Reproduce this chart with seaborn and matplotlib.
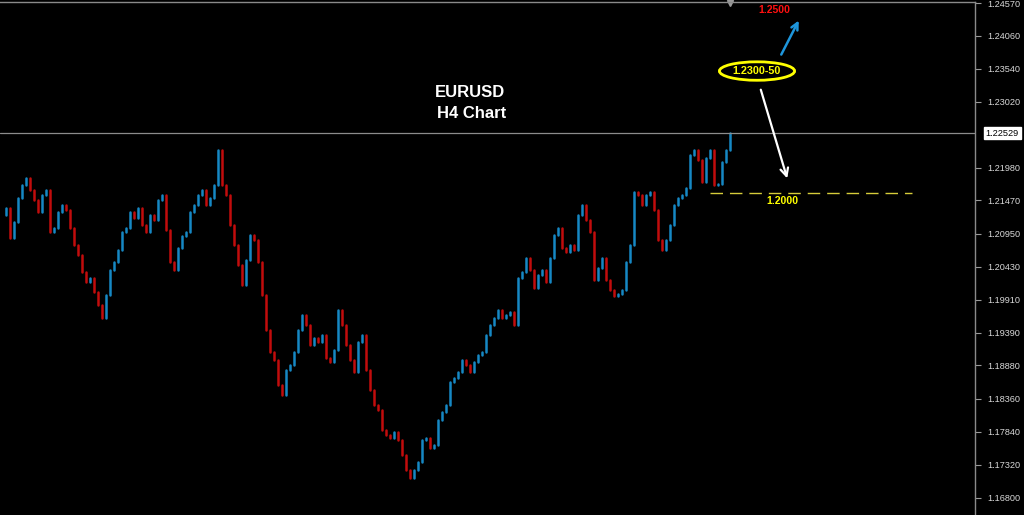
import numpy as np
import pandas as pd
import seaborn as sns
import matplotlib.pyplot as plt
from matplotlib.patches import Ellipse

# H4 closes, left to right (one every ~4 px)
closes = [
    1.21242, 1.21351, 1.20880, 1.21132, 1.21508, 1.21713, 1.21823, 1.21634, 1.21477, 1.21289,
    1.21556, 1.21634, 1.20975, 1.21038, 1.21289, 1.21399, 1.21320, 1.21038, 1.20771, 1.20614,
    1.20347, 1.20190, 1.20253, 1.20033, 1.19829, 1.19625, 1.19986, 1.20378, 1.20504, 1.20692,
    1.20975, 1.21038, 1.21289, 1.21195, 1.21351, 1.21085, 1.20975, 1.21242, 1.21163, 1.21477,
    1.21556, 1.21006, 1.20504, 1.20378, 1.20724, 1.20912, 1.20975, 1.21289, 1.21399, 1.21556,
    1.21634, 1.21399, 1.21508, 1.21713, 1.22262, 1.21713, 1.21556, 1.21085, 1.20771, 1.20457,
    1.20143, 1.20535, 1.20928, 1.20849, 1.20504, 1.19986, 1.19436, 1.19091, 1.18965, 1.18573,
    1.18416, 1.18808, 1.18887, 1.19091, 1.19436, 1.19672, 1.19515, 1.19201, 1.19311, 1.19248,
    1.19358, 1.18997, 1.18934, 1.19122, 1.19750, 1.19515, 1.19201, 1.18965, 1.18777, 1.19248,
    1.19358, 1.18808, 1.18494, 1.18259, 1.18180, 1.17866, 1.17788, 1.17741, 1.17835, 1.17709,
    1.17474, 1.17238, 1.17113, 1.17238, 1.17364, 1.17709, 1.17741, 1.17584, 1.17631, 1.18023,
    1.18149, 1.18259, 1.18620, 1.18683, 1.18777, 1.18965, 1.18887, 1.18777, 1.18934, 1.19044,
    1.19091, 1.19358, 1.19515, 1.19625, 1.19750, 1.19625, 1.19672, 1.19719, 1.19515, 1.20253,
    1.20347, 1.20567, 1.20378, 1.20096, 1.20300, 1.20378, 1.20190, 1.20567, 1.20928, 1.21038,
    1.20724, 1.20661, 1.20771, 1.20692, 1.21242, 1.21399, 1.21163, 1.20975, 1.20221, 1.20410,
    1.20567, 1.20221, 1.20064, 1.19970, 1.20001, 1.20064, 1.20504, 1.20771, 1.21603, 1.21556,
    1.21399, 1.21556, 1.21603, 1.21320, 1.20849, 1.20692, 1.20849, 1.21085, 1.21399, 1.21508,
    1.21556, 1.21666, 1.22184, 1.22262, 1.22105, 1.21760, 1.22137, 1.22262, 1.21713, 1.21728,
    1.22074, 1.22262, 1.22529,
]

price_ticks = [1.24570, 1.24060, 1.23540, 1.23020, 1.21980, 1.21470, 1.20950, 1.20430,
               1.19910, 1.19390, 1.18880, 1.18360, 1.17840, 1.17320, 1.16800]
current_price = 1.22529
support_level = 1.2159

rows = []
for i in range(1, len(closes)):
    o, c = closes[i - 1], closes[i]
    d = "up" if c >= o else "down"
    rows.append({"bar": i, "x": i, "price": o, "dir": d})
    rows.append({"bar": i, "x": i, "price": c, "dir": d})
df = pd.DataFrame(rows)

sns.set_style("dark", {"axes.facecolor": "black", "figure.facecolor": "black"})
plt.rcParams["font.family"] = ["Liberation Sans", "DejaVu Sans"]

fig = plt.figure(figsize=(10.24, 5.15), dpi=100)
ax = fig.add_axes([0, 0, 975 / 1024, 1 - 2 / 515])

sns.lineplot(data=df, x="x", y="price", units="bar", hue="dir", estimator=None,
             palette={"up": "#1688c4", "down": "#c20c0c"}, lw=1.8, legend=False,
             sort=False, ax=ax)

ax.set_xlim(-0.5, 243.25)
ax.set_ylim(1.16532, 1.24586)
ax.set_xlabel("")
ax.set_ylabel("")
ax.set_xticks([])
ax.yaxis.tick_right()
ax.set_yticks(price_ticks)
ax.set_yticklabels([f"{t:.5f}" for t in price_ticks])
ax.tick_params(axis="y", colors="#9a9a9a", labelcolor="#d8d8d8", labelsize=6.6,
               length=4, width=0.8, pad=5, direction="out")
ax.grid(False)
for side in ["left", "bottom"]:
    ax.spines[side].set_visible(False)
for side in ["right", "top"]:
    ax.spines[side].set_color("#8a8a8a")
    ax.spines[side].set_linewidth(1)

# current price line and label
ax.axhline(current_price, color="#8c8c8c", lw=0.9)
ax.text(1.011, current_price, f"{current_price:.5f}", transform=ax.get_yaxis_transform(),
        va="center", ha="left", fontsize=6.6, color="black",
        bbox=dict(boxstyle="square,pad=0.2", fc="white", ec="white"), clip_on=False)

# shift marker at the top
ax.plot([182], [1.2457], marker="v", color="#9a9a9a", ms=5, clip_on=False)

# title
ax.text(117, 1.23173, "EURUSD", color="white", fontsize=12, fontweight="bold",
        ha="center", va="center")
ax.text(117.5, 1.22843, "H4 Chart", color="white", fontsize=12, fontweight="bold",
        ha="center", va="center")

# targets
ax.text(193, 1.24460, "1.2500", color="#ff1010", fontsize=7.6, fontweight="bold",
        ha="center", va="center")
ax.annotate("", xy=(199.5, 1.24334), xytext=(194.5, 1.23722),
            arrowprops=dict(arrowstyle="->", color="#1e96dc", lw=1.8, mutation_scale=12))
ax.add_patch(Ellipse((188.75, 1.23502), 18.8, 0.0029, fill=False,
                     ec="#ffff00", lw=2))
ax.text(188.75, 1.23502, "1.2300-50", color="#ffff00", fontsize=7.8, fontweight="bold",
        ha="center", va="center")
ax.annotate("", xy=(196.5, 1.21775), xytext=(189.5, 1.23251),
            arrowprops=dict(arrowstyle="->", color="white", lw=1.6, mutation_scale=14))
ax.plot([177, 227.5], [support_level, support_level], color="#d6cc3a", lw=1,
        dashes=(9, 5))
ax.text(195, 1.21461, "1.2000", color="#ffff00", fontsize=7.6, fontweight="bold",
        ha="center", va="center")

fig.savefig("out.png", dpi=100, facecolor="black")
